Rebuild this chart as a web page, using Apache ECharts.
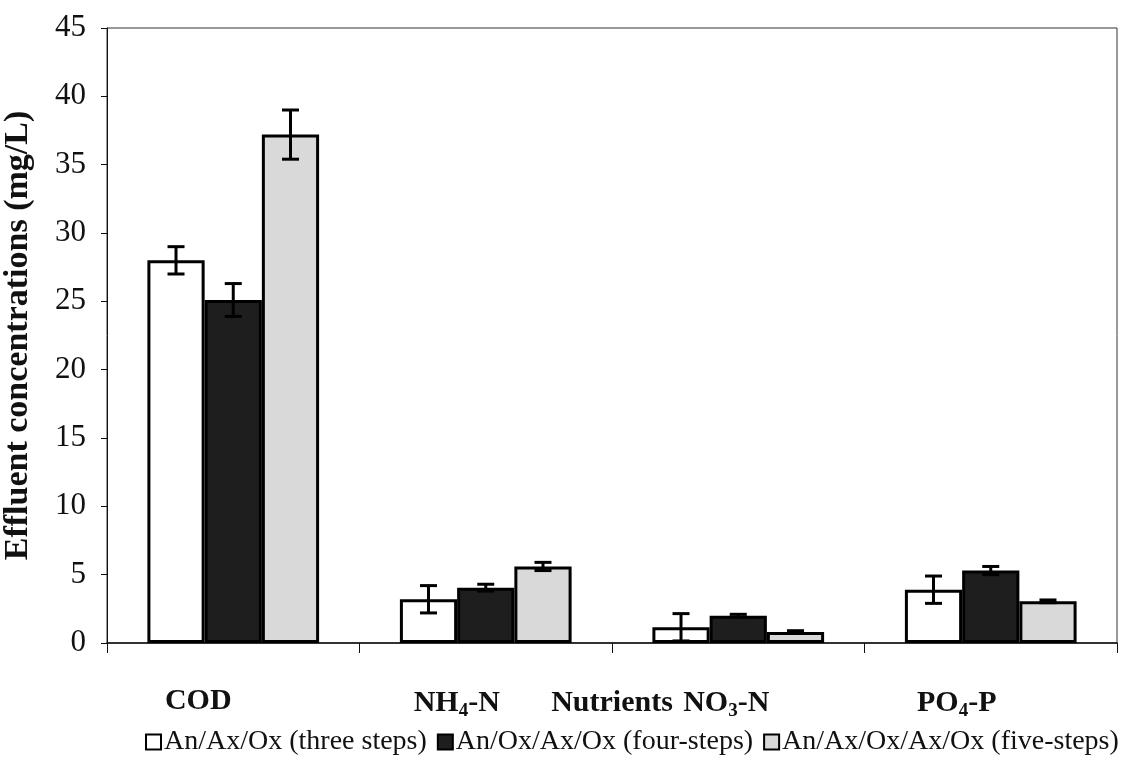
<!DOCTYPE html>
<html>
<head>
<meta charset="utf-8">
<script src="https://cdn.jsdelivr.net/npm/echarts@6/dist/echarts.min.js"></script>
<style>
html,body{margin:0;padding:0;background:#fff;}
#chart{width:1126px;height:771px;}
</style>
</head>
<body>
<div id="chart"></div>
<script>
// ---- data ----
var categories = ['COD', 'NH4-N', 'NO3-N', 'PO4-P'];
var seriesNames = ['An/Ax/Ox (three steps)', 'An/Ox/Ax/Ox (four-steps)', 'An/Ax/Ox/Ax/Ox (five-steps)'];
var threeSteps = [28.0, 3.2, 1.15, 3.9];
var fourSteps = [25.1, 4.05, 2.0, 5.3];
var fiveSteps = [37.2, 5.6, 0.8, 3.05];
var errThree = [1.0, 1.0, 1.0, 1.0];
var errFour = [1.2, 0.25, 0.1, 0.3];
var errFive = [1.8, 0.3, 0.1, 0.1];
var yTicks = [0, 5, 10, 15, 20, 25, 30, 35, 40, 45];

var values = [threeSteps, fourSteps, fiveSteps];
var errors = [errThree, errFour, errFive];
var fills = ['#ffffff', '#1e1e1e', '#d9d9d9'];

var FONT = '"Liberation Serif", "Times New Roman", serif';
var GAP = 0.32;

var labelRich = {
  m: {fontFamily: FONT, fontWeight: 'bold', fontSize: 30, color: '#111'},
  s: {fontFamily: FONT, fontWeight: 'bold', fontSize: 19, color: '#111', padding: [16, 0, 0, 0]},
  g1: {width: 70}, g2: {width: 58}, g3: {width: 24}, g4: {width: 68}
};
var labelText = {
  'COD': '{m|COD}{g1|}',
  'NH4-N': '{m|NH}{s|4}{m|-N}{g2|}',
  'NO3-N': '{m|NO}{s|3}{m|-N}{g3|}',
  'PO4-P': '{m|PO}{s|4}{m|-P}{g4|}'
};

var barSeries = seriesNames.map(function (name, i) {
  return {
    name: name,
    type: 'bar',
    data: values[i],
    barGap: '0%',
    barCategoryGap: (GAP * 100) + '%',
    itemStyle: {color: fills[i], borderColor: '#000', borderWidth: 3},
    z: 2
  };
});

var errData = [];
errors.forEach(function (arr, s) {
  arr.forEach(function (e, c) {
    errData.push([c, values[s][c], e, s]);
  });
});

var errSeries = {
  type: 'custom',
  z: 5,
  silent: true,
  data: errData,
  renderItem: function (params, api) {
    var c = api.value(0), v = api.value(1), e = api.value(2), s = api.value(3);
    var band = api.size([1, 0])[0];
    var bw = band * (1 - GAP) / 3;
    var center = api.coord([c, v]);
    var x = center[0] + (s - 1) * bw;
    var yHi = api.coord([c, v + e])[1];
    var yLo = api.coord([c, Math.max(v - e, 0)])[1];
    var cap = 8.5;
    var st = {stroke: '#000', lineWidth: 3};
    return {
      type: 'group',
      children: [
        {type: 'line', shape: {x1: x, y1: yHi, x2: x, y2: yLo}, style: st},
        {type: 'line', shape: {x1: x - cap, y1: yHi, x2: x + cap, y2: yHi}, style: st},
        {type: 'line', shape: {x1: x - cap, y1: yLo, x2: x + cap, y2: yLo}, style: st}
      ]
    };
  }
};

var chart = echarts.init(document.getElementById('chart'), null, {renderer: 'canvas'});
chart.setOption({
  backgroundColor: '#fff',
  animation: false,
  grid: {left: 107, right: 9, top: 28, bottom: 128, show: true, borderColor: '#333', borderWidth: 1,
         backgroundColor: 'transparent', containLabel: false, outerBoundsMode: 'none'},
  legend: {
    bottom: 10,
    left: 140,
    itemWidth: 15,
    itemHeight: 15,
    itemGap: 10,
    icon: 'rect',
    textStyle: {fontFamily: FONT, fontSize: 28, color: '#111', padding: [0, 0, 0, -2]},
    data: seriesNames
  },
  xAxis: {
    type: 'category',
    data: categories,
    name: 'Nutrients',
    nameLocation: 'middle',
    nameGap: 45,
    nameMoveOverlap: false,
    nameTextStyle: {fontFamily: FONT, fontWeight: 'bold', fontSize: 30, color: '#111'},
    axisLine: {lineStyle: {color: '#111', width: 1.5}},
    axisTick: {show: true, length: 10, lineStyle: {color: '#111'}},
    axisLabel: {
      margin: 43,
      formatter: function (v) { return labelText[v]; },
      rich: labelRich
    }
  },
  yAxis: {
    type: 'value',
    min: yTicks[0],
    max: yTicks[yTicks.length - 1],
    interval: yTicks[1] - yTicks[0],
    name: 'Effluent concentrations (mg/L)',
    nameLocation: 'middle',
    nameGap: 72,
    nameMoveOverlap: false,
    nameTextStyle: {fontFamily: FONT, fontWeight: 'bold', fontSize: 34, color: '#111'},
    axisLine: {show: true, lineStyle: {color: '#111', width: 1}},
    axisTick: {show: true, length: 6, lineStyle: {color: '#111'}},
    splitLine: {show: false},
    axisLabel: {margin: 21, fontFamily: FONT, fontSize: 31, color: '#111'}
  },
  series: barSeries.concat([errSeries])
});
</script>
</body>
</html>
